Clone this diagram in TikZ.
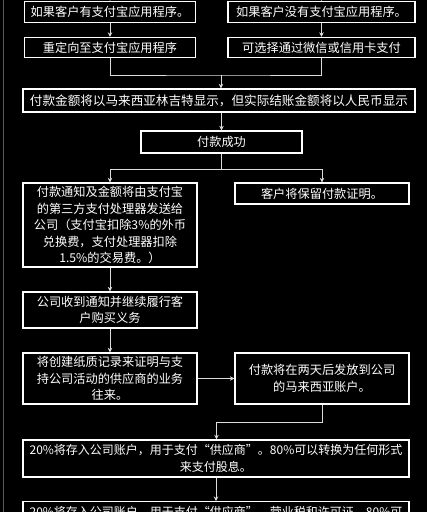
\documentclass[tikz,border=0pt]{standalone}
\usepackage{fontspec}
\usepackage{xcolor}
\usepackage{tikz}
\usetikzlibrary{calc,arrows.meta,positioning}
\newfontfamily\cjk{Noto Sans CJK SC}
\definecolor{bgc}{HTML}{000000}
\definecolor{linec}{HTML}{DCDCDC}
\definecolor{edgec}{HTML}{5A5A5A}
\tikzset{
  ar/.style={-{Stealth[length=4.5pt,width=4.5pt]},line width=1pt,linec},
  ln/.style={line width=1pt,linec},
  box/.style={draw=white,line width=1.3pt,text=white,align=center,inner sep=2pt,
    font=\cjk\fontsize{12.2}{16.5}\selectfont}
}
\begin{document}
\begin{tikzpicture}[x=1pt,y=-1pt]
\fill[bgc] (0,0) rectangle (427,512);
\useasboundingbox (0,0) rectangle (427,512);
\clip (0,0) rectangle (427,512);
\draw[edgec,line width=1pt] (3.5,0) -- (3.5,512);
% top row
\node[box,minimum width=171pt,minimum height=21pt] (hasapp) at (110,12) {如果客户有支付宝应用程序。};
\node[box,minimum width=187pt,minimum height=21pt] (noapp) at (321.5,12) {如果客户没有支付宝应用程序。};
\node[box,minimum width=171pt,minimum height=20pt] (redir) at (110,47.5) {重定向至支付宝应用程序};
\node[box,minimum width=187pt,minimum height=20pt] (wechat) at (321.5,47.5) {可选择通过微信或信用卡支付};
\coordinate (in1) at (110,-8);
\coordinate (in2) at (322,-8);
\draw[ar] (in1) -- (hasapp.north);
\draw[ar] (in2) -- (noapp.north);
\draw[ar] (hasapp) -- (redir);
\draw[ar] (noapp.south -| wechat.north) -- (wechat.north);
\coordinate (j1) at (221,75);
\draw[ln] (redir.south) |- (j1) -| (wechat.south);
\node[box,minimum width=392pt,minimum height=23pt,font=\cjk\fontsize{12.6}{14}\selectfont] (rmb) at (219,100.5) {付款金额将以马来西亚林吉特显示，但实际结账金额将以人民币显示};
\draw[ar] (j1) -- (rmb.north -| j1);
\node[box,minimum width=161pt,minimum height=22pt] (ok) at (221.5,142) {付款成功};
\draw[ar] (rmb.south -| ok.north) -- (ok.north);
\node[box,minimum width=174pt,minimum height=84pt,text width=168pt] (notice) at (110,225) {付款通知及金额将由支付宝\\的第三方支付处理器发送给\\公司（支付宝扣除3\%的外币\\兑换费，支付处理器扣除\\1.5\%的交易费。）};
\node[box,minimum width=174pt,minimum height=21pt] (proof) at (322,193.5) {客户将保留付款证明。};
\coordinate (j2) at (221.5,169);
\draw[ln] (ok.south) -- (j2);
\draw[ar] (j2) -| (notice.north);
\draw[ar] (j2) -| (proof.north);
\node[box,minimum width=174pt,minimum height=36pt,text width=168pt] (recv) at (110,310) {公司收到通知并继续履行客\\户购买义务};
\draw[ar] (notice) -- (recv);
\node[box,minimum width=174pt,minimum height=51pt,text width=168pt] (paper) at (110,378.5) {将创建纸质记录来证明与支\\持公司活动的供应商的业务\\往来。};
\node[box,minimum width=174pt,minimum height=51pt,text width=168pt] (payout) at (322,378.5) {付款将在两天后发放到公司\\的马来西亚账户。\\[6pt]};
\draw[ar] (recv) -- (paper);
\draw[ar] (paper) -- (payout);
\node[box,minimum width=386pt,minimum height=37pt,text width=380pt,font=\cjk\fontsize{12}{16.5}\selectfont] (split) at (216,458.5) {20\%将存入公司账户，用于支付“供应商”。80\%可以转换为任何形式\\来支付股息。};
\coordinate (j3) at (216.5,422);
\draw[ln] (payout.south) |- (j3);
\draw[ar] (j3) -- (split.north -| j3);
\node[box,minimum width=386pt,minimum height=37pt,text width=380pt,anchor=north,font=\cjk\fontsize{12}{16.5}\selectfont] (split2) at (216,501) {20\%将存入公司账户，用于支付“供应商”、营业税和许可证。80\%可\\以转换为任何形式来支付股息。};
\draw[ar] (split) -- (split2);
\end{tikzpicture}
\end{document}
